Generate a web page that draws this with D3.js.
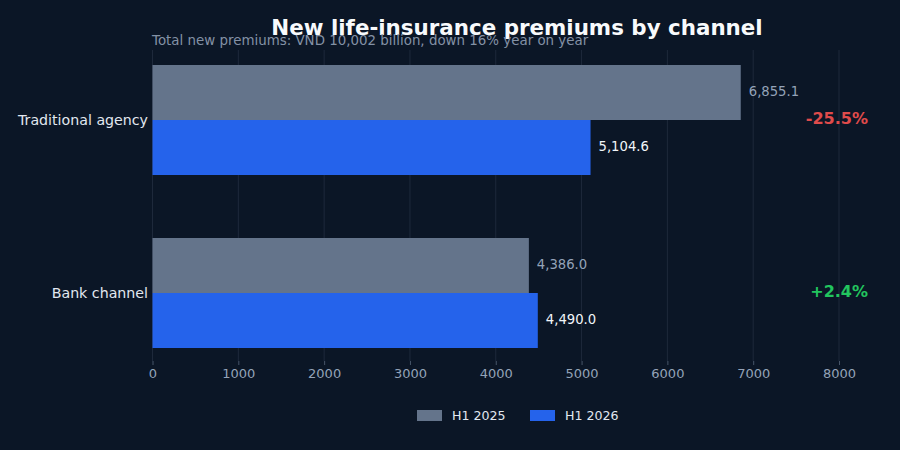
<!DOCTYPE html>
<html><head><meta charset="utf-8">
<script src="https://cdn.jsdelivr.net/npm/d3@7"></script>
<style>html,body{margin:0;padding:0;background:#0b1626;}svg{display:block;font-family:"DejaVu Sans",sans-serif;}</style>
</head><body>
<svg id="c" width="900" height="450"></svg>
<script>
const categories = ["Traditional agency", "Bank channel"];
const seriesNames = ["H1 2025", "H1 2026"];
const h1_2025 = [6855.1, 4386.0];
const h1_2026 = [5104.6, 4490.0];
const changes = ["-25.5%", "+2.4%"];
const xTicks = [0,1000,2000,3000,4000,5000,6000,7000,8000];
const title = "New life-insurance premiums by channel";
const subtitle = "Total new premiums: VND 10,002 billion, down 16% year on year";

const colors = ["#64748b", "#2563eb"];
const svg = d3.select("#c");
svg.append("rect").attr("width",900).attr("height",450).attr("fill","#0b1626");

const x = d3.scaleLinear().domain([0,8000]).range([152.5,839]);
const y = d3.scalePoint().domain(categories).range([120,293]);
const barH = 55;
const plotTop = 50, plotBottom = 361;

// grid
svg.append("g").selectAll("line").data(xTicks).join("line")
  .attr("x1",d=>x(d)).attr("x2",d=>x(d)).attr("y1",plotTop).attr("y2",plotBottom)
  .attr("stroke","#1e293b").attr("stroke-width",1);

// axis
const ax = svg.append("g").attr("transform",`translate(0,${plotBottom})`)
  .call(d3.axisBottom(x).tickValues(xTicks).tickSize(4).tickPadding(2).tickFormat(d3.format("d")));
ax.select(".domain").remove();
ax.selectAll(".tick line").attr("stroke","#475569");
ax.selectAll(".tick text").attr("fill","#94a3b8").attr("font-size",13).attr("dy","0.85em")
  .attr("font-family","DejaVu Sans, sans-serif");

const series = [h1_2025, h1_2026];
series.forEach((vals,si)=>{
  const g = svg.append("g");
  g.selectAll("rect").data(vals).join("rect")
    .attr("x",x(0)).attr("width",d=>x(d)-x(0))
    .attr("y",(d,i)=>y(categories[i]) - barH + si*barH).attr("height",barH)
    .attr("fill",colors[si]);
  g.selectAll("text").data(vals).join("text")
    .attr("x",d=>x(d)+8).attr("y",(d,i)=>y(categories[i]) - barH/2 + si*barH - 1)
    .attr("dy","0.35em").attr("font-size",13.2)
    .attr("fill", si===0 ? "#94a3b8" : "#f1f5f9")
    .text(d=>d3.format(",.1f")(d));
});

// category labels
svg.append("g").selectAll("text").data(categories).join("text")
  .attr("x",148).attr("y",d=>y(d)).attr("dy","0.35em").attr("text-anchor","end")
  .attr("font-size",14.2).attr("fill","#e2e8f0").text(d=>d);

// change labels
svg.append("g").selectAll("text").data(changes).join("text")
  .attr("x",868).attr("y",(d,i)=>y(categories[i])-1.5).attr("dy","0.35em").attr("text-anchor","end")
  .attr("font-size",16).attr("font-weight","bold")
  .attr("fill",d=>d.startsWith("-") ? "#e04b4b" : "#22c55e").text(d=>d);

// title
svg.append("text").attr("x",517).attr("y",35).attr("text-anchor","middle")
  .attr("font-size",21.4).attr("font-weight","bold").attr("fill","#f8fafc").text(title);
svg.append("text").attr("x",152).attr("y",45).attr("font-size",13.4)
  .attr("fill","#8391a5").text(subtitle);

// legend
const leg = svg.append("g");
const legX = [417, 530];
seriesNames.forEach((n,i)=>{
  leg.append("rect").attr("x",legX[i]).attr("y",410).attr("width",25).attr("height",11).attr("fill",colors[i]);
  leg.append("text").attr("x",legX[i]+35).attr("y",415.5).attr("dy","0.35em")
    .attr("font-size",12.6).attr("fill","#e2e8f0").text(n);
});
</script>
</body></html>
